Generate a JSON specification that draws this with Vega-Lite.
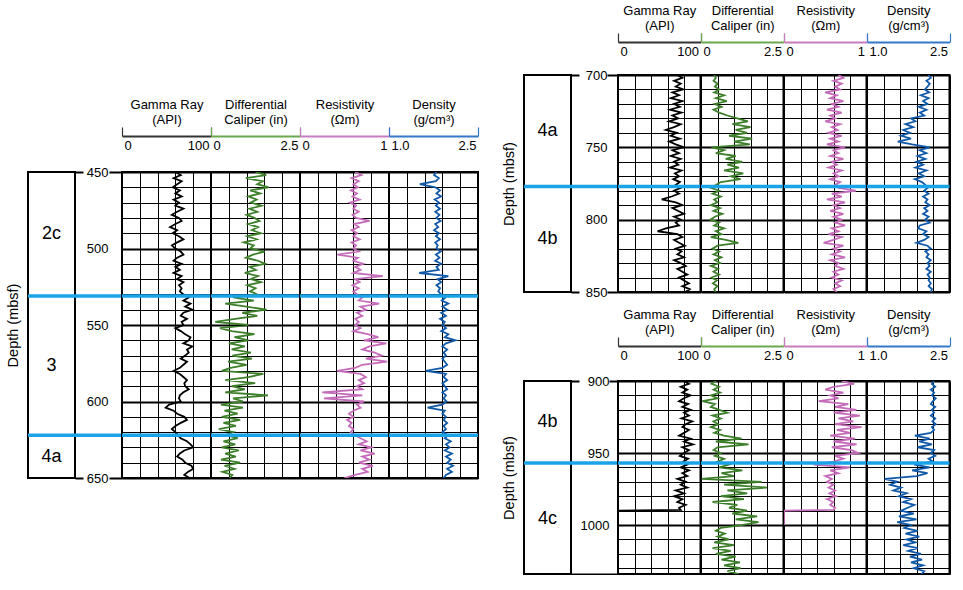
{
"$schema":"https://vega.github.io/schema/vega-lite/v6.json",
"padding":{"left":5,"top":3,"right":0,"bottom":0},
"config":{"font":"Liberation Sans","view":{"stroke":null},"axis":{"labelFont":"Liberation Sans","titleFont":"Liberation Sans"},"text":{"font":"Liberation Sans"}},
"datasets":{
"A":[
{"d":450,"gr":60,"cal":1.25,"res":0.62,"den":1.80},{"d":452,"gr":66,"cal":1.55,"res":0.69,"den":1.76},{"d":454,"gr":58,"cal":0.98,"res":0.58,"den":1.84},{"d":456,"gr":67,"cal":1.45,"res":0.66,"den":1.79},{"d":458,"gr":62,"cal":1.30,"res":0.60,"den":1.52},{"d":460,"gr":57,"cal":1.62,"res":0.65,"den":1.78},{"d":462,"gr":65,"cal":1.10,"res":0.57,"den":1.86},{"d":464,"gr":60,"cal":1.38,"res":0.64,"den":1.80},{"d":466,"gr":67,"cal":1.05,"res":0.59,"den":1.88},{"d":468,"gr":58,"cal":1.28,"res":0.67,"den":1.77},
{"d":470,"gr":64,"cal":1.12,"res":0.56,"den":1.84},{"d":472,"gr":60,"cal":1.42,"res":0.63,"den":1.79},{"d":474,"gr":69,"cal":1.08,"res":0.60,"den":1.86},{"d":476,"gr":62,"cal":1.30,"res":0.66,"den":1.78},{"d":478,"gr":56,"cal":1.00,"res":0.59,"den":1.85},{"d":480,"gr":64,"cal":1.22,"res":0.63,"den":1.80},{"d":482,"gr":67,"cal":1.36,"res":0.78,"den":1.87},{"d":484,"gr":60,"cal":1.05,"res":0.61,"den":1.78},{"d":486,"gr":54,"cal":1.32,"res":0.66,"den":1.83},{"d":488,"gr":62,"cal":1.15,"res":0.58,"den":1.76},
{"d":490,"gr":57,"cal":1.40,"res":0.64,"den":1.84},{"d":492,"gr":64,"cal":1.02,"res":0.60,"den":1.79},{"d":494,"gr":69,"cal":1.28,"res":0.67,"den":1.86},{"d":496,"gr":62,"cal":0.92,"res":0.58,"den":1.78},{"d":498,"gr":56,"cal":1.20,"res":0.63,"den":1.82},{"d":500,"gr":60,"cal":1.10,"res":0.60,"den":1.80},{"d":502,"gr":66,"cal":1.50,"res":0.66,"den":1.87},{"d":504,"gr":69,"cal":1.18,"res":0.42,"den":1.79},{"d":506,"gr":62,"cal":0.98,"res":0.65,"den":1.85},{"d":508,"gr":58,"cal":1.32,"res":0.60,"den":1.78},
{"d":510,"gr":67,"cal":1.52,"res":0.71,"den":1.88},{"d":512,"gr":60,"cal":1.08,"res":0.62,"den":1.80},{"d":514,"gr":65,"cal":1.26,"res":0.68,"den":1.84},{"d":516,"gr":58,"cal":0.95,"res":0.60,"den":1.51},{"d":518,"gr":67,"cal":1.32,"res":0.93,"den":2.00},{"d":520,"gr":62,"cal":1.12,"res":0.62,"den":1.82},{"d":522,"gr":69,"cal":1.40,"res":0.67,"den":1.88},{"d":524,"gr":64,"cal":1.02,"res":0.59,"den":1.80},{"d":526,"gr":67,"cal":1.25,"res":0.66,"den":1.86},{"d":528,"gr":65,"cal":1.10,"res":0.60,"den":1.83},
{"d":530,"gr":69,"cal":1.30,"res":0.64,"den":1.88},{"d":532,"gr":75,"cal":0.62,"res":0.70,"den":1.95},{"d":534,"gr":69,"cal":1.20,"res":0.66,"den":1.89},{"d":536,"gr":77,"cal":0.40,"res":0.89,"den":2.00},{"d":538,"gr":71,"cal":1.00,"res":0.68,"den":1.90},{"d":540,"gr":79,"cal":1.56,"res":0.74,"den":1.98},{"d":542,"gr":69,"cal":0.88,"res":0.64,"den":1.88},{"d":544,"gr":66,"cal":1.30,"res":0.70,"den":1.96},{"d":546,"gr":73,"cal":0.68,"res":0.62,"den":1.86},{"d":548,"gr":67,"cal":0.12,"res":0.66,"den":1.94},
{"d":550,"gr":69,"cal":1.05,"res":0.62,"den":1.90},{"d":552,"gr":60,"cal":0.25,"res":0.68,"den":1.96},{"d":554,"gr":66,"cal":0.58,"res":0.60,"den":1.88},{"d":556,"gr":71,"cal":1.22,"res":0.76,"den":2.00},{"d":558,"gr":77,"cal":0.66,"res":0.88,"den":1.94},{"d":560,"gr":75,"cal":1.05,"res":0.72,"den":2.12},{"d":562,"gr":69,"cal":0.50,"res":0.97,"den":1.96},{"d":564,"gr":79,"cal":0.95,"res":0.78,"den":1.90},{"d":566,"gr":73,"cal":0.58,"res":0.70,"den":1.98},{"d":568,"gr":75,"cal":1.12,"res":0.84,"den":1.92},
{"d":570,"gr":71,"cal":0.60,"res":0.92,"den":1.96},{"d":572,"gr":66,"cal":1.15,"res":0.74,"den":1.90},{"d":574,"gr":73,"cal":0.48,"res":0.98,"den":1.94},{"d":576,"gr":69,"cal":1.00,"res":0.70,"den":1.98},{"d":578,"gr":65,"cal":0.55,"res":0.62,"den":1.90},{"d":580,"gr":58,"cal":0.30,"res":0.42,"den":1.62},{"d":582,"gr":65,"cal":1.47,"res":0.68,"den":1.96},{"d":584,"gr":69,"cal":1.05,"res":0.74,"den":1.92},{"d":586,"gr":73,"cal":0.40,"res":0.66,"den":1.98},{"d":588,"gr":70,"cal":1.24,"res":0.72,"den":1.90},
{"d":590,"gr":71,"cal":0.58,"res":0.64,"den":1.94},{"d":592,"gr":75,"cal":0.95,"res":0.70,"den":1.98},{"d":594,"gr":69,"cal":0.40,"res":0.25,"den":1.90},{"d":596,"gr":65,"cal":1.60,"res":0.70,"den":1.96},{"d":598,"gr":64,"cal":0.62,"res":0.27,"den":1.92},{"d":600,"gr":66,"cal":0.90,"res":0.72,"den":1.97},{"d":602,"gr":53,"cal":0.28,"res":0.64,"den":1.90},{"d":604,"gr":49,"cal":0.90,"res":0.68,"den":1.65},{"d":606,"gr":58,"cal":0.38,"res":0.60,"den":1.94},{"d":608,"gr":62,"cal":0.75,"res":0.55,"den":1.90},
{"d":610,"gr":70,"cal":0.30,"res":0.60,"den":1.96},{"d":612,"gr":73,"cal":0.82,"res":0.53,"den":1.92},{"d":614,"gr":66,"cal":0.35,"res":0.58,"den":1.98},{"d":616,"gr":60,"cal":0.70,"res":0.55,"den":1.92},{"d":618,"gr":56,"cal":0.22,"res":0.60,"den":1.96},{"d":620,"gr":60,"cal":0.62,"res":0.57,"den":1.90},{"d":622,"gr":63,"cal":0.40,"res":0.62,"den":2.00},{"d":624,"gr":66,"cal":0.75,"res":0.68,"den":1.94},{"d":626,"gr":73,"cal":0.35,"res":0.75,"den":2.04},{"d":628,"gr":77,"cal":0.68,"res":0.66,"den":1.96},
{"d":630,"gr":80,"cal":0.30,"res":0.80,"den":2.02},{"d":632,"gr":70,"cal":0.78,"res":0.68,"den":1.94},{"d":634,"gr":65,"cal":0.40,"res":0.84,"den":2.06},{"d":636,"gr":62,"cal":0.70,"res":0.70,"den":1.96},{"d":638,"gr":68,"cal":0.28,"res":0.78,"den":2.04},{"d":640,"gr":71,"cal":0.82,"res":0.66,"den":1.98},{"d":642,"gr":78,"cal":0.38,"res":0.82,"den":2.08},{"d":644,"gr":80,"cal":0.66,"res":0.70,"den":1.98},{"d":646,"gr":74,"cal":0.32,"res":0.76,"den":2.06},{"d":648,"gr":70,"cal":0.60,"res":0.62,"den":1.96},
{"d":650,"gr":76,"cal":0.52,"res":0.50,"den":1.92}
],
"B":[
{"d":700,"gr":72,"cal":0.40,"res":0.66,"den":2.12},{"d":702,"gr":78,"cal":0.45,"res":0.72,"den":2.16},{"d":704,"gr":68,"cal":0.38,"res":0.60,"den":2.08},{"d":706,"gr":76,"cal":0.50,"res":0.70,"den":2.14},{"d":708,"gr":70,"cal":0.42,"res":0.62,"den":2.10},{"d":710,"gr":79,"cal":0.55,"res":0.68,"den":2.05},{"d":712,"gr":66,"cal":0.40,"res":0.50,"den":2.13},{"d":714,"gr":74,"cal":0.70,"res":0.64,"den":1.98},{"d":716,"gr":64,"cal":0.45,"res":0.56,"den":2.12},{"d":718,"gr":78,"cal":0.78,"res":0.72,"den":2.02},
{"d":720,"gr":68,"cal":0.42,"res":0.58,"den":2.10},{"d":722,"gr":75,"cal":0.62,"res":0.66,"den":1.94},{"d":724,"gr":63,"cal":0.38,"res":0.52,"den":2.08},{"d":726,"gr":77,"cal":0.55,"res":0.70,"den":1.96},{"d":728,"gr":66,"cal":0.80,"res":0.56,"den":2.04},{"d":730,"gr":73,"cal":1.10,"res":0.62,"den":1.80},{"d":732,"gr":62,"cal":1.42,"res":0.50,"den":1.88},{"d":734,"gr":76,"cal":0.95,"res":0.68,"den":1.70},{"d":736,"gr":68,"cal":1.50,"res":0.58,"den":1.84},{"d":738,"gr":58,"cal":1.05,"res":0.65,"den":1.66},
{"d":740,"gr":71,"cal":1.40,"res":0.54,"den":1.78},{"d":742,"gr":64,"cal":0.85,"res":0.70,"den":1.62},{"d":744,"gr":75,"cal":1.55,"res":0.56,"den":1.80},{"d":746,"gr":62,"cal":1.00,"res":0.66,"den":1.56},{"d":748,"gr":70,"cal":1.48,"res":0.52,"den":1.82},{"d":750,"gr":80,"cal":0.32,"res":0.74,"den":2.14},{"d":752,"gr":66,"cal":0.70,"res":0.60,"den":1.96},{"d":754,"gr":74,"cal":0.45,"res":0.66,"den":2.08},{"d":756,"gr":64,"cal":1.05,"res":0.56,"den":1.92},{"d":758,"gr":76,"cal":0.75,"res":0.72,"den":2.06},
{"d":760,"gr":68,"cal":1.25,"res":0.58,"den":1.90},{"d":762,"gr":73,"cal":0.80,"res":0.64,"den":2.02},{"d":764,"gr":63,"cal":1.15,"res":0.54,"den":1.88},{"d":766,"gr":77,"cal":0.70,"res":0.70,"den":2.08},{"d":768,"gr":69,"cal":1.28,"res":0.60,"den":1.94},{"d":770,"gr":74,"cal":0.90,"res":0.66,"den":2.04},{"d":772,"gr":67,"cal":1.20,"res":0.56,"den":1.87},{"d":774,"gr":75,"cal":0.60,"res":0.68,"den":2.00},{"d":776,"gr":70,"cal":0.45,"res":0.62,"den":2.06},{"d":778,"gr":76,"cal":0.30,"res":0.66,"den":2.10},
{"d":780,"gr":68,"cal":0.55,"res":0.87,"den":2.04},{"d":782,"gr":74,"cal":0.35,"res":0.58,"den":2.12},{"d":784,"gr":65,"cal":0.60,"res":0.70,"den":2.02},{"d":786,"gr":53,"cal":0.40,"res":0.52,"den":2.10},{"d":788,"gr":70,"cal":0.50,"res":0.74,"den":2.06},{"d":790,"gr":78,"cal":0.30,"res":0.60,"den":2.14},{"d":792,"gr":66,"cal":0.58,"res":0.68,"den":2.04},{"d":794,"gr":73,"cal":0.38,"res":0.56,"den":2.10},{"d":796,"gr":80,"cal":0.65,"res":0.72,"den":2.02},{"d":798,"gr":68,"cal":0.42,"res":0.60,"den":2.12},
{"d":800,"gr":76,"cal":0.28,"res":0.70,"den":2.06},{"d":802,"gr":70,"cal":0.55,"res":0.62,"den":2.14},{"d":804,"gr":74,"cal":0.40,"res":0.74,"den":1.96},{"d":806,"gr":58,"cal":0.70,"res":0.58,"den":1.93},{"d":808,"gr":48,"cal":0.45,"res":0.66,"den":2.08},{"d":810,"gr":72,"cal":0.62,"res":0.54,"den":2.02},{"d":812,"gr":78,"cal":0.30,"res":0.70,"den":2.12},{"d":814,"gr":68,"cal":0.75,"res":0.60,"den":2.04},{"d":816,"gr":74,"cal":1.13,"res":0.48,"den":1.90},{"d":818,"gr":81,"cal":0.50,"res":0.72,"den":2.10},
{"d":820,"gr":70,"cal":0.35,"res":0.60,"den":2.16},{"d":822,"gr":77,"cal":0.55,"res":0.68,"den":2.06},{"d":824,"gr":72,"cal":0.38,"res":0.58,"den":2.12},{"d":826,"gr":80,"cal":0.62,"res":0.74,"den":2.08},{"d":828,"gr":68,"cal":0.42,"res":0.56,"den":2.16},{"d":830,"gr":76,"cal":0.58,"res":0.66,"den":2.10},{"d":832,"gr":82,"cal":0.30,"res":0.62,"den":2.14},{"d":834,"gr":72,"cal":0.52,"res":0.72,"den":2.08},{"d":836,"gr":78,"cal":0.38,"res":0.60,"den":2.16},{"d":838,"gr":84,"cal":0.55,"res":0.66,"den":2.10},
{"d":840,"gr":74,"cal":0.32,"res":0.58,"den":2.14},{"d":842,"gr":80,"cal":0.48,"res":0.70,"den":2.12},{"d":844,"gr":86,"cal":0.36,"res":0.62,"den":2.16},{"d":846,"gr":78,"cal":0.50,"res":0.68,"den":2.12},{"d":848,"gr":87,"cal":0.40,"res":0.60,"den":2.18},{"d":850,"gr":82,"cal":0.45,"res":0.64,"den":2.16}
],
"C":[
{"d":900,"gr":80,"cal":0.45,"res":0.70,"den":2.22},{"d":902,"gr":86,"cal":0.32,"res":0.85,"den":2.18},{"d":904,"gr":76,"cal":0.55,"res":0.60,"den":2.24},{"d":906,"gr":84,"cal":0.38,"res":0.50,"den":2.16},{"d":908,"gr":78,"cal":0.58,"res":0.72,"den":2.22},{"d":910,"gr":88,"cal":0.30,"res":0.56,"den":2.18},{"d":912,"gr":80,"cal":0.50,"res":0.66,"den":2.25},{"d":914,"gr":74,"cal":0.04,"res":0.42,"den":2.20},{"d":916,"gr":85,"cal":0.42,"res":0.78,"den":2.16},{"d":918,"gr":78,"cal":0.30,"res":0.62,"den":2.24},
{"d":920,"gr":88,"cal":0.55,"res":0.88,"den":2.18},{"d":922,"gr":80,"cal":0.80,"res":0.60,"den":2.22},{"d":924,"gr":86,"cal":0.35,"res":0.92,"den":2.16},{"d":926,"gr":77,"cal":0.60,"res":0.66,"den":2.24},{"d":928,"gr":90,"cal":0.38,"res":0.84,"den":2.19},{"d":930,"gr":82,"cal":0.52,"res":0.62,"den":2.25},{"d":932,"gr":78,"cal":0.30,"res":0.94,"den":2.18},{"d":934,"gr":86,"cal":0.58,"res":0.64,"den":2.22},{"d":936,"gr":80,"cal":0.40,"res":0.80,"den":2.16},{"d":938,"gr":74,"cal":0.70,"res":0.56,"den":1.87},
{"d":940,"gr":88,"cal":1.23,"res":0.86,"den":2.14},{"d":942,"gr":80,"cal":0.45,"res":0.60,"den":1.95},{"d":944,"gr":91,"cal":1.44,"res":0.88,"den":2.18},{"d":946,"gr":78,"cal":0.50,"res":0.58,"den":1.92},{"d":948,"gr":86,"cal":0.38,"res":0.82,"den":2.22},{"d":950,"gr":80,"cal":0.60,"res":0.90,"den":2.16},{"d":952,"gr":75,"cal":0.42,"res":0.62,"den":2.24},{"d":954,"gr":85,"cal":0.70,"res":0.72,"den":2.12},{"d":956,"gr":79,"cal":0.50,"res":0.60,"den":2.20},{"d":958,"gr":84,"cal":0.85,"res":0.36,"den":1.86},
{"d":960,"gr":76,"cal":0.55,"res":0.80,"den":2.14},{"d":962,"gr":86,"cal":1.25,"res":0.56,"den":1.82},{"d":964,"gr":78,"cal":0.62,"res":0.66,"den":2.10},{"d":966,"gr":84,"cal":1.00,"res":0.50,"den":1.90},{"d":968,"gr":72,"cal":0.02,"res":0.58,"den":1.32},{"d":970,"gr":82,"cal":1.84,"res":0.52,"den":1.55},{"d":972,"gr":76,"cal":0.70,"res":0.60,"den":1.42},{"d":974,"gr":84,"cal":2.00,"res":0.54,"den":1.62},{"d":976,"gr":70,"cal":0.80,"res":0.62,"den":1.48},{"d":978,"gr":80,"cal":1.40,"res":0.55,"den":1.72},
{"d":980,"gr":68,"cal":0.60,"res":0.63,"den":1.58},{"d":982,"gr":78,"cal":1.30,"res":0.52,"den":1.80},{"d":984,"gr":72,"cal":0.35,"res":0.60,"den":1.66},{"d":986,"gr":82,"cal":1.10,"res":0.56,"den":1.86},{"d":988,"gr":74,"cal":0.85,"res":0.62,"den":1.74},{"d":989.5,"gr":76,"res":0.60},{"d":990,"gr":0,"cal":1.40,"res":0,"den":1.62},{"d":992,"cal":0.95,"den":1.85},{"d":994,"cal":1.70,"den":1.58},{"d":996,"cal":1.05,"den":1.90},
{"d":998,"cal":1.74,"den":1.55},{"d":1000,"cal":1.23,"res":0,"den":1.80},{"d":1002,"cal":0.60,"den":1.68},{"d":1004,"cal":0.45,"den":1.92},{"d":1006,"cal":0.72,"den":1.70},{"d":1008,"cal":0.50,"den":1.95},{"d":1010,"cal":0.85,"den":1.72},{"d":1012,"cal":0.40,"den":1.88},{"d":1014,"cal":1.00,"den":1.66},{"d":1016,"cal":0.35,"den":1.92},
{"d":1018,"cal":0.90,"den":1.75},{"d":1020,"cal":0.45,"den":1.98},{"d":1022,"cal":1.05,"den":1.78},{"d":1024,"cal":0.62,"den":2.00},{"d":1026,"cal":1.18,"den":1.80},{"d":1028,"cal":0.70,"den":2.02},{"d":1030,"cal":1.20,"den":1.85},{"d":1032,"cal":0.80,"den":2.04},{"d":1034,"cal":1.15,"den":1.99}
],
"uA":[{"unit":"2c","top":450,"bottom":531},{"unit":"3","top":531,"bottom":622},{"unit":"4a","top":622,"bottom":650}],
"uB":[{"unit":"4a","top":700,"bottom":777},{"unit":"4b","top":777,"bottom":850}],
"uC":[{"unit":"4b","top":900,"bottom":957},{"unit":"4c","top":957,"bottom":1034}],
"bA":[{"d":531},{"d":622}],
"bB":[{"d":777}],
"bC":[{"d":957}]
},
"hconcat":[
{"vconcat":[
 {"width":10,"height":22,"data":{"values":[]},"mark":"rule","encoding":{}},
 {"hconcat":[
  {"width":94,"height":306,"layer":[
   {"data":{"name":"uA"},"mark":{"type":"rect","fill":"#fff","stroke":"#000","strokeWidth":2},
    "encoding":{"x":{"datum":0,"type":"quantitative","scale":{"domain":[0,1],"nice":false,"zero":false},"axis":null},"x2":{"datum":0.5},
     "y":{"field":"top","type":"quantitative","scale":{"domain":[450,650],"reverse":true,"nice":false,"zero":false},"axis":{"orient":"left","labels":false,"ticks":false,"domain":false,"grid":false,"title":"Depth (mbsf)","titleFontSize":14.5,"titleFontWeight":"normal","titleColor":"#000","titlePadding":8}},"y2":{"field":"bottom"}}},
   {"data":{"name":"uA"},"transform":[{"calculate":"(datum.top+datum.bottom)/2","as":"mid"}],"mark":{"type":"text","fontSize":18,"color":"#000"},
    "encoding":{"x":{"datum":0.25,"type":"quantitative","axis":null},"y":{"field":"mid","type":"quantitative","scale":{"domain":[450,650],"reverse":true,"nice":false,"zero":false},"axis":{"orient":"right","offset":-47,"values":[450,500,550,600,650],"labelAlign":"right","labelPadding":25,"labelFontSize":13,"labelColor":"#000","ticks":true,"tickSize":8,"tickWidth":2,"tickColor":"#000","tickOpacity":{"condition":{"test":"datum.value==450||datum.value==650","value":1},"value":0},"domain":false,"grid":false,"title":null}},"text":{"field":"unit"}}},
   {"data":{"name":"bA"},"mark":{"type":"rule","color":"#1aa3e8","strokeWidth":3.5},
    "encoding":{"y":{"field":"d","type":"quantitative","scale":{"domain":[450,650],"reverse":true,"nice":false,"zero":false},"axis":{"orient":"right","offset":-13,"values":[450,650],"labels":false,"ticks":true,"tickSize":13,"tickWidth":2,"tickColor":"#000","domain":false,"grid":false,"title":null}}}}
  ],"resolve":{"axis":{"y":"independent"}}},
  {"width":89,"height":306,"view":{"stroke":"#000","strokeWidth":2},"layer":[
   {"data":{"name":"A"},"mark":{"type":"line","color":"#000","strokeWidth":1.8,"invalid":"filter","clip":true},
    "encoding":{"x":{"field":"gr","type":"quantitative","scale":{"domain":[0,100],"nice":false,"zero":false},"axis":{"orient":"top","offset":36,"values":[0,20,40,60,80,100],"tickCount":50,"grid":true,"gridColor":"#000","gridWidth":1,"gridOpacity":1,"domainColor":"#333","domainWidth":2,"ticks":true,"tickColor":"#333","tickSize":9,"tickWidth":1.2,"tickOpacity":{"condition":{"test":"datum.value==0||datum.value==100","value":1},"value":0},"labelExpr":"datum.value==0?'0':datum.value==100?'100':''","labelFlush":true,"labelFlushOffset":-2,"labelBaseline":"top","labelPadding":-12,"labelFontSize":13,"labelColor":"#000","title":["Gamma Ray","(API)"],"titleFontSize":13,"titleFontWeight":"normal","titleColor":"#000","titlePadding":0,"titleLineHeight":15}},
     "y":{"field":"d","type":"quantitative","scale":{"domain":[450,650],"reverse":true,"nice":false,"zero":false},"axis":{"values":[450,460,470,480,490,500,510,520,530,540,550,560,570,580,590,600,610,620,630,640,650],"tickCount":50,"labels":false,"ticks":false,"domain":false,"title":null,"grid":true,"gridColor":"#000","gridOpacity":1,"gridWidth":{"condition":{"test":"datum.value%50==0","value":2},"value":1}}},
     "order":{"field":"d","type":"quantitative"}}},
   {"data":{"name":"bA"},"mark":{"type":"rule","color":"#1aa3e8","strokeWidth":3.5},"encoding":{"y":{"field":"d","type":"quantitative","scale":{"domain":[450,650],"reverse":true,"nice":false,"zero":false}}}}
  ]},
  {"width":89,"height":306,"view":{"stroke":"#000","strokeWidth":2},"layer":[
   {"data":{"name":"A"},"mark":{"type":"line","color":"#3d7f2a","strokeWidth":1.8,"invalid":"filter","clip":true},
    "encoding":{"x":{"field":"cal","type":"quantitative","scale":{"domain":[0,2.5],"nice":false,"zero":false},"axis":{"orient":"top","offset":36,"values":[0,0.5,1,1.5,2,2.5],"tickCount":50,"grid":true,"gridColor":"#000","gridWidth":1,"gridOpacity":1,"domainColor":"#6aa84f","domainWidth":2,"ticks":true,"tickColor":"#6aa84f","tickSize":9,"tickWidth":1.2,"tickOpacity":{"condition":{"test":"datum.value==0||datum.value==2.5","value":1},"value":0},"labelExpr":"datum.value==0?'0':datum.value==2.5?'2.5':''","labelFlush":true,"labelFlushOffset":-2,"labelBaseline":"top","labelPadding":-12,"labelFontSize":13,"labelColor":"#000","title":["Differential","Caliper (in)"],"titleFontSize":13,"titleFontWeight":"normal","titleColor":"#000","titlePadding":0,"titleLineHeight":15}},
     "y":{"field":"d","type":"quantitative","scale":{"domain":[450,650],"reverse":true,"nice":false,"zero":false},"axis":{"values":[450,460,470,480,490,500,510,520,530,540,550,560,570,580,590,600,610,620,630,640,650],"tickCount":50,"labels":false,"ticks":false,"domain":false,"title":null,"grid":true,"gridColor":"#000","gridOpacity":1,"gridWidth":{"condition":{"test":"datum.value%50==0","value":2},"value":1}}},
     "order":{"field":"d","type":"quantitative"}}},
   {"data":{"name":"bA"},"mark":{"type":"rule","color":"#1aa3e8","strokeWidth":3.5},"encoding":{"y":{"field":"d","type":"quantitative","scale":{"domain":[450,650],"reverse":true,"nice":false,"zero":false}}}}
  ]},
  {"width":89,"height":306,"view":{"stroke":"#000","strokeWidth":2},"layer":[
   {"data":{"name":"A"},"mark":{"type":"line","color":"#c46bb9","strokeWidth":1.8,"invalid":"filter","clip":true},
    "encoding":{"x":{"field":"res","type":"quantitative","scale":{"domain":[0,1],"nice":false,"zero":false},"axis":{"orient":"top","offset":36,"values":[0,0.2,0.4,0.6,0.8,1],"tickCount":50,"grid":true,"gridColor":"#000","gridWidth":1,"gridOpacity":1,"domainColor":"#c77dc0","domainWidth":2,"ticks":true,"tickColor":"#c77dc0","tickSize":9,"tickWidth":1.2,"tickOpacity":{"condition":{"test":"datum.value==0||datum.value==1","value":1},"value":0},"labelExpr":"datum.value==0?'0':datum.value==1?'1':''","labelFlush":true,"labelFlushOffset":-2,"labelBaseline":"top","labelPadding":-12,"labelFontSize":13,"labelColor":"#000","title":["Resistivity","(Ωm)"],"titleFontSize":13,"titleFontWeight":"normal","titleColor":"#000","titlePadding":0,"titleLineHeight":15}},
     "y":{"field":"d","type":"quantitative","scale":{"domain":[450,650],"reverse":true,"nice":false,"zero":false},"axis":{"values":[450,460,470,480,490,500,510,520,530,540,550,560,570,580,590,600,610,620,630,640,650],"tickCount":50,"labels":false,"ticks":false,"domain":false,"title":null,"grid":true,"gridColor":"#000","gridOpacity":1,"gridWidth":{"condition":{"test":"datum.value%50==0","value":2},"value":1}}},
     "order":{"field":"d","type":"quantitative"}}},
   {"data":{"name":"bA"},"mark":{"type":"rule","color":"#1aa3e8","strokeWidth":3.5},"encoding":{"y":{"field":"d","type":"quantitative","scale":{"domain":[450,650],"reverse":true,"nice":false,"zero":false}}}}
  ]},
  {"width":89,"height":306,"view":{"stroke":"#000","strokeWidth":2},"layer":[
   {"data":{"name":"A"},"mark":{"type":"line","color":"#1059a8","strokeWidth":1.8,"invalid":"filter","clip":true},
    "encoding":{"x":{"field":"den","type":"quantitative","scale":{"domain":[1,2.5],"nice":false,"zero":false},"axis":{"orient":"top","offset":36,"values":[1,1.3,1.6,1.9,2.2,2.5],"tickCount":50,"grid":true,"gridColor":"#000","gridWidth":1,"gridOpacity":1,"domainColor":"#3478c8","domainWidth":2,"ticks":true,"tickColor":"#3478c8","tickSize":9,"tickWidth":1.2,"tickOpacity":{"condition":{"test":"datum.value==1||datum.value==2.5","value":1},"value":0},"labelExpr":"datum.value==1?'1.0':datum.value==2.5?'2.5':''","labelFlush":true,"labelFlushOffset":-2,"labelBaseline":"top","labelPadding":-12,"labelFontSize":13,"labelColor":"#000","title":["Density","(g/cm³)"],"titleFontSize":13,"titleFontWeight":"normal","titleColor":"#000","titlePadding":0,"titleLineHeight":15}},
     "y":{"field":"d","type":"quantitative","scale":{"domain":[450,650],"reverse":true,"nice":false,"zero":false},"axis":{"values":[450,460,470,480,490,500,510,520,530,540,550,560,570,580,590,600,610,620,630,640,650],"tickCount":50,"labels":false,"ticks":false,"domain":false,"title":null,"grid":true,"gridColor":"#000","gridOpacity":1,"gridWidth":{"condition":{"test":"datum.value%50==0","value":2},"value":1}}},
     "order":{"field":"d","type":"quantitative"}}},
   {"data":{"name":"bA"},"mark":{"type":"rule","color":"#1aa3e8","strokeWidth":3.5},"encoding":{"y":{"field":"d","type":"quantitative","scale":{"domain":[450,650],"reverse":true,"nice":false,"zero":false}}}}
  ]}
 ],"spacing":0,"bounds":"flush"}
],"spacing":0},
{"vconcat":[
 {"hconcat":[
  {"width":94,"height":217,"layer":[
   {"data":{"name":"uB"},"mark":{"type":"rect","fill":"#fff","stroke":"#000","strokeWidth":2},
    "encoding":{"x":{"datum":0,"type":"quantitative","scale":{"domain":[0,1],"nice":false,"zero":false},"axis":null},"x2":{"datum":0.5},
     "y":{"field":"top","type":"quantitative","scale":{"domain":[700,850],"reverse":true,"nice":false,"zero":false},"axis":{"orient":"left","labels":false,"ticks":false,"domain":false,"grid":false,"title":"Depth (mbsf)","titleFontSize":14.5,"titleFontWeight":"normal","titleColor":"#000","titlePadding":8}},"y2":{"field":"bottom"}}},
   {"data":{"name":"uB"},"transform":[{"calculate":"(datum.top+datum.bottom)/2","as":"mid"}],"mark":{"type":"text","fontSize":18,"color":"#000"},
    "encoding":{"x":{"datum":0.25,"type":"quantitative","axis":null},"y":{"field":"mid","type":"quantitative","scale":{"domain":[700,850],"reverse":true,"nice":false,"zero":false},"axis":{"orient":"right","offset":-47,"values":[700,750,800,850],"labelAlign":"right","labelPadding":28,"labelFontSize":13,"labelColor":"#000","ticks":true,"tickSize":8,"tickWidth":2,"tickColor":"#000","tickOpacity":{"condition":{"test":"datum.value==700||datum.value==850","value":1},"value":0},"domain":false,"grid":false,"title":null}},"text":{"field":"unit"}}},
   {"data":{"name":"bB"},"mark":{"type":"rule","color":"#1aa3e8","strokeWidth":3.5},
    "encoding":{"y":{"field":"d","type":"quantitative","scale":{"domain":[700,850],"reverse":true,"nice":false,"zero":false},"axis":{"orient":"right","offset":-11,"values":[700,850],"labels":false,"ticks":true,"tickSize":11,"tickWidth":2,"tickColor":"#000","domain":false,"grid":false,"title":null}}}}
  ],"resolve":{"axis":{"y":"independent"}}},
  {"width":82.5,"height":217,"view":{"stroke":"#000","strokeWidth":2},"layer":[
   {"data":{"name":"B"},"mark":{"type":"line","color":"#000","strokeWidth":1.8,"invalid":"filter","clip":true},
    "encoding":{"x":{"field":"gr","type":"quantitative","scale":{"domain":[0,100],"nice":false,"zero":false},"axis":{"orient":"top","offset":33,"values":[0,20,40,60,80,100],"tickCount":50,"grid":true,"gridColor":"#000","gridWidth":1,"gridOpacity":1,"domainColor":"#333","domainWidth":2,"ticks":true,"tickColor":"#333","tickSize":9,"tickWidth":1.2,"tickOpacity":{"condition":{"test":"datum.value==0||datum.value==100","value":1},"value":0},"labelExpr":"datum.value==0?'0':datum.value==100?'100':''","labelFlush":true,"labelFlushOffset":-2,"labelBaseline":"top","labelPadding":-12,"labelFontSize":13,"labelColor":"#000","title":["Gamma Ray","(API)"],"titleFontSize":13,"titleFontWeight":"normal","titleColor":"#000","titlePadding":0,"titleLineHeight":15}},
     "y":{"field":"d","type":"quantitative","scale":{"domain":[700,850],"reverse":true,"nice":false,"zero":false},"axis":{"values":[700,710,720,730,740,750,760,770,780,790,800,810,820,830,840,850],"tickCount":50,"labels":false,"ticks":false,"domain":false,"title":null,"grid":true,"gridColor":"#000","gridOpacity":1,"gridWidth":{"condition":{"test":"datum.value%50==0","value":2},"value":1}}},
     "order":{"field":"d","type":"quantitative"}}},
   {"data":{"name":"bB"},"mark":{"type":"rule","color":"#1aa3e8","strokeWidth":3.5},"encoding":{"y":{"field":"d","type":"quantitative","scale":{"domain":[700,850],"reverse":true,"nice":false,"zero":false}}}}
  ]},
  {"width":82.5,"height":217,"view":{"stroke":"#000","strokeWidth":2},"layer":[
   {"data":{"name":"B"},"mark":{"type":"line","color":"#3d7f2a","strokeWidth":1.8,"invalid":"filter","clip":true},
    "encoding":{"x":{"field":"cal","type":"quantitative","scale":{"domain":[0,2.5],"nice":false,"zero":false},"axis":{"orient":"top","offset":33,"values":[0,0.5,1,1.5,2,2.5],"tickCount":50,"grid":true,"gridColor":"#000","gridWidth":1,"gridOpacity":1,"domainColor":"#6aa84f","domainWidth":2,"ticks":true,"tickColor":"#6aa84f","tickSize":9,"tickWidth":1.2,"tickOpacity":{"condition":{"test":"datum.value==0||datum.value==2.5","value":1},"value":0},"labelExpr":"datum.value==0?'0':datum.value==2.5?'2.5':''","labelFlush":true,"labelFlushOffset":-2,"labelBaseline":"top","labelPadding":-12,"labelFontSize":13,"labelColor":"#000","title":["Differential","Caliper (in)"],"titleFontSize":13,"titleFontWeight":"normal","titleColor":"#000","titlePadding":0,"titleLineHeight":15}},
     "y":{"field":"d","type":"quantitative","scale":{"domain":[700,850],"reverse":true,"nice":false,"zero":false},"axis":{"values":[700,710,720,730,740,750,760,770,780,790,800,810,820,830,840,850],"tickCount":50,"labels":false,"ticks":false,"domain":false,"title":null,"grid":true,"gridColor":"#000","gridOpacity":1,"gridWidth":{"condition":{"test":"datum.value%50==0","value":2},"value":1}}},
     "order":{"field":"d","type":"quantitative"}}},
   {"data":{"name":"bB"},"mark":{"type":"rule","color":"#1aa3e8","strokeWidth":3.5},"encoding":{"y":{"field":"d","type":"quantitative","scale":{"domain":[700,850],"reverse":true,"nice":false,"zero":false}}}}
  ]},
  {"width":82.5,"height":217,"view":{"stroke":"#000","strokeWidth":2},"layer":[
   {"data":{"name":"B"},"mark":{"type":"line","color":"#c46bb9","strokeWidth":1.8,"invalid":"filter","clip":true},
    "encoding":{"x":{"field":"res","type":"quantitative","scale":{"domain":[0,1],"nice":false,"zero":false},"axis":{"orient":"top","offset":33,"values":[0,0.2,0.4,0.6,0.8,1],"tickCount":50,"grid":true,"gridColor":"#000","gridWidth":1,"gridOpacity":1,"domainColor":"#c77dc0","domainWidth":2,"ticks":true,"tickColor":"#c77dc0","tickSize":9,"tickWidth":1.2,"tickOpacity":{"condition":{"test":"datum.value==0||datum.value==1","value":1},"value":0},"labelExpr":"datum.value==0?'0':datum.value==1?'1':''","labelFlush":true,"labelFlushOffset":-2,"labelBaseline":"top","labelPadding":-12,"labelFontSize":13,"labelColor":"#000","title":["Resistivity","(Ωm)"],"titleFontSize":13,"titleFontWeight":"normal","titleColor":"#000","titlePadding":0,"titleLineHeight":15}},
     "y":{"field":"d","type":"quantitative","scale":{"domain":[700,850],"reverse":true,"nice":false,"zero":false},"axis":{"values":[700,710,720,730,740,750,760,770,780,790,800,810,820,830,840,850],"tickCount":50,"labels":false,"ticks":false,"domain":false,"title":null,"grid":true,"gridColor":"#000","gridOpacity":1,"gridWidth":{"condition":{"test":"datum.value%50==0","value":2},"value":1}}},
     "order":{"field":"d","type":"quantitative"}}},
   {"data":{"name":"bB"},"mark":{"type":"rule","color":"#1aa3e8","strokeWidth":3.5},"encoding":{"y":{"field":"d","type":"quantitative","scale":{"domain":[700,850],"reverse":true,"nice":false,"zero":false}}}}
  ]},
  {"width":82.5,"height":217,"view":{"stroke":"#000","strokeWidth":2},"layer":[
   {"data":{"name":"B"},"mark":{"type":"line","color":"#1059a8","strokeWidth":1.8,"invalid":"filter","clip":true},
    "encoding":{"x":{"field":"den","type":"quantitative","scale":{"domain":[1,2.5],"nice":false,"zero":false},"axis":{"orient":"top","offset":33,"values":[1,1.3,1.6,1.9,2.2,2.5],"tickCount":50,"grid":true,"gridColor":"#000","gridWidth":1,"gridOpacity":1,"domainColor":"#3478c8","domainWidth":2,"ticks":true,"tickColor":"#3478c8","tickSize":9,"tickWidth":1.2,"tickOpacity":{"condition":{"test":"datum.value==1||datum.value==2.5","value":1},"value":0},"labelExpr":"datum.value==1?'1.0':datum.value==2.5?'2.5':''","labelFlush":true,"labelFlushOffset":-2,"labelBaseline":"top","labelPadding":-12,"labelFontSize":13,"labelColor":"#000","title":["Density","(g/cm³)"],"titleFontSize":13,"titleFontWeight":"normal","titleColor":"#000","titlePadding":0,"titleLineHeight":15}},
     "y":{"field":"d","type":"quantitative","scale":{"domain":[700,850],"reverse":true,"nice":false,"zero":false},"axis":{"values":[700,710,720,730,740,750,760,770,780,790,800,810,820,830,840,850],"tickCount":50,"labels":false,"ticks":false,"domain":false,"title":null,"grid":true,"gridColor":"#000","gridOpacity":1,"gridWidth":{"condition":{"test":"datum.value%50==0","value":2},"value":1}}},
     "order":{"field":"d","type":"quantitative"}}},
   {"data":{"name":"bB"},"mark":{"type":"rule","color":"#1aa3e8","strokeWidth":3.5},"encoding":{"y":{"field":"d","type":"quantitative","scale":{"domain":[700,850],"reverse":true,"nice":false,"zero":false}}}}
  ]}
 ],"spacing":0,"bounds":"flush"},
 {"hconcat":[
  {"width":94,"height":193,"layer":[
   {"data":{"name":"uC"},"mark":{"type":"rect","fill":"#fff","stroke":"#000","strokeWidth":2},
    "encoding":{"x":{"datum":0,"type":"quantitative","scale":{"domain":[0,1],"nice":false,"zero":false},"axis":null},"x2":{"datum":0.5},
     "y":{"field":"top","type":"quantitative","scale":{"domain":[900,1034],"reverse":true,"nice":false,"zero":false},"axis":{"orient":"left","labels":false,"ticks":false,"domain":false,"grid":false,"title":"Depth (mbsf)","titleFontSize":14.5,"titleFontWeight":"normal","titleColor":"#000","titlePadding":8}},"y2":{"field":"bottom"}}},
   {"data":{"name":"uC"},"transform":[{"calculate":"(datum.top+datum.bottom)/2","as":"mid"}],"mark":{"type":"text","fontSize":18,"color":"#000"},
    "encoding":{"x":{"datum":0.25,"type":"quantitative","axis":null},"y":{"field":"mid","type":"quantitative","scale":{"domain":[900,1034],"reverse":true,"nice":false,"zero":false},"axis":{"orient":"right","offset":-47,"values":[900,950,1000,1034],"format":"d","labelExpr":"datum.value==1034?'':datum.label","labelAlign":"right","labelPadding":30,"labelFontSize":13,"labelColor":"#000","ticks":true,"tickSize":{"condition":{"test":"datum.value==1034","value":47},"value":8},"tickWidth":2,"tickColor":"#000","tickOpacity":{"condition":{"test":"datum.value==900||datum.value==1034","value":1},"value":0},"domain":false,"grid":false,"title":null}},"text":{"field":"unit"}}},
   {"data":{"name":"bC"},"mark":{"type":"rule","color":"#1aa3e8","strokeWidth":3.5},
    "encoding":{"y":{"field":"d","type":"quantitative","scale":{"domain":[900,1034],"reverse":true,"nice":false,"zero":false},"axis":{"orient":"right","offset":-9,"values":[900],"labels":false,"ticks":true,"tickSize":9,"tickWidth":2,"tickColor":"#000","domain":false,"grid":false,"title":null}}}}
  ],"resolve":{"axis":{"y":"independent"}}},
  {"width":82.5,"height":193,"view":{"stroke":"#000","strokeWidth":2},"layer":[
   {"data":{"name":"C"},"mark":{"type":"line","color":"#000","strokeWidth":1.8,"invalid":"filter","clip":true},
    "encoding":{"x":{"field":"gr","type":"quantitative","scale":{"domain":[0,100],"nice":false,"zero":false},"axis":{"orient":"top","offset":35,"values":[0,20,40,60,80,100],"tickCount":50,"grid":true,"gridColor":"#000","gridWidth":1,"gridOpacity":1,"domainColor":"#333","domainWidth":2,"ticks":true,"tickColor":"#333","tickSize":9,"tickWidth":1.2,"tickOpacity":{"condition":{"test":"datum.value==0||datum.value==100","value":1},"value":0},"labelExpr":"datum.value==0?'0':datum.value==100?'100':''","labelFlush":true,"labelFlushOffset":-2,"labelBaseline":"top","labelPadding":-12,"labelFontSize":13,"labelColor":"#000","title":["Gamma Ray","(API)"],"titleFontSize":13,"titleFontWeight":"normal","titleColor":"#000","titlePadding":0,"titleLineHeight":15}},
     "y":{"field":"d","type":"quantitative","scale":{"domain":[900,1034],"reverse":true,"nice":false,"zero":false},"axis":{"values":[900,910,920,930,940,950,960,970,980,990,1000,1010,1020,1030],"tickCount":50,"labels":false,"ticks":false,"domain":false,"title":null,"grid":true,"gridColor":"#000","gridOpacity":1,"gridWidth":{"condition":{"test":"datum.value%50==0","value":2},"value":1}}},
     "order":{"field":"d","type":"quantitative"}}},
   {"data":{"name":"bC"},"mark":{"type":"rule","color":"#1aa3e8","strokeWidth":3.5},"encoding":{"y":{"field":"d","type":"quantitative","scale":{"domain":[900,1034],"reverse":true,"nice":false,"zero":false}}}}
  ]},
  {"width":82.5,"height":193,"view":{"stroke":"#000","strokeWidth":2},"layer":[
   {"data":{"name":"C"},"mark":{"type":"line","color":"#3d7f2a","strokeWidth":1.8,"invalid":"filter","clip":true},
    "encoding":{"x":{"field":"cal","type":"quantitative","scale":{"domain":[0,2.5],"nice":false,"zero":false},"axis":{"orient":"top","offset":35,"values":[0,0.5,1,1.5,2,2.5],"tickCount":50,"grid":true,"gridColor":"#000","gridWidth":1,"gridOpacity":1,"domainColor":"#6aa84f","domainWidth":2,"ticks":true,"tickColor":"#6aa84f","tickSize":9,"tickWidth":1.2,"tickOpacity":{"condition":{"test":"datum.value==0||datum.value==2.5","value":1},"value":0},"labelExpr":"datum.value==0?'0':datum.value==2.5?'2.5':''","labelFlush":true,"labelFlushOffset":-2,"labelBaseline":"top","labelPadding":-12,"labelFontSize":13,"labelColor":"#000","title":["Differential","Caliper (in)"],"titleFontSize":13,"titleFontWeight":"normal","titleColor":"#000","titlePadding":0,"titleLineHeight":15}},
     "y":{"field":"d","type":"quantitative","scale":{"domain":[900,1034],"reverse":true,"nice":false,"zero":false},"axis":{"values":[900,910,920,930,940,950,960,970,980,990,1000,1010,1020,1030],"tickCount":50,"labels":false,"ticks":false,"domain":false,"title":null,"grid":true,"gridColor":"#000","gridOpacity":1,"gridWidth":{"condition":{"test":"datum.value%50==0","value":2},"value":1}}},
     "order":{"field":"d","type":"quantitative"}}},
   {"data":{"name":"bC"},"mark":{"type":"rule","color":"#1aa3e8","strokeWidth":3.5},"encoding":{"y":{"field":"d","type":"quantitative","scale":{"domain":[900,1034],"reverse":true,"nice":false,"zero":false}}}}
  ]},
  {"width":82.5,"height":193,"view":{"stroke":"#000","strokeWidth":2},"layer":[
   {"data":{"name":"C"},"mark":{"type":"line","color":"#c46bb9","strokeWidth":1.8,"invalid":"filter","clip":true},
    "encoding":{"x":{"field":"res","type":"quantitative","scale":{"domain":[0,1],"nice":false,"zero":false},"axis":{"orient":"top","offset":35,"values":[0,0.2,0.4,0.6,0.8,1],"tickCount":50,"grid":true,"gridColor":"#000","gridWidth":1,"gridOpacity":1,"domainColor":"#c77dc0","domainWidth":2,"ticks":true,"tickColor":"#c77dc0","tickSize":9,"tickWidth":1.2,"tickOpacity":{"condition":{"test":"datum.value==0||datum.value==1","value":1},"value":0},"labelExpr":"datum.value==0?'0':datum.value==1?'1':''","labelFlush":true,"labelFlushOffset":-2,"labelBaseline":"top","labelPadding":-12,"labelFontSize":13,"labelColor":"#000","title":["Resistivity","(Ωm)"],"titleFontSize":13,"titleFontWeight":"normal","titleColor":"#000","titlePadding":0,"titleLineHeight":15}},
     "y":{"field":"d","type":"quantitative","scale":{"domain":[900,1034],"reverse":true,"nice":false,"zero":false},"axis":{"values":[900,910,920,930,940,950,960,970,980,990,1000,1010,1020,1030],"tickCount":50,"labels":false,"ticks":false,"domain":false,"title":null,"grid":true,"gridColor":"#000","gridOpacity":1,"gridWidth":{"condition":{"test":"datum.value%50==0","value":2},"value":1}}},
     "order":{"field":"d","type":"quantitative"}}},
   {"data":{"name":"bC"},"mark":{"type":"rule","color":"#1aa3e8","strokeWidth":3.5},"encoding":{"y":{"field":"d","type":"quantitative","scale":{"domain":[900,1034],"reverse":true,"nice":false,"zero":false}}}}
  ]},
  {"width":82.5,"height":193,"view":{"stroke":"#000","strokeWidth":2},"layer":[
   {"data":{"name":"C"},"mark":{"type":"line","color":"#1059a8","strokeWidth":1.8,"invalid":"filter","clip":true},
    "encoding":{"x":{"field":"den","type":"quantitative","scale":{"domain":[1,2.5],"nice":false,"zero":false},"axis":{"orient":"top","offset":35,"values":[1,1.3,1.6,1.9,2.2,2.5],"tickCount":50,"grid":true,"gridColor":"#000","gridWidth":1,"gridOpacity":1,"domainColor":"#3478c8","domainWidth":2,"ticks":true,"tickColor":"#3478c8","tickSize":9,"tickWidth":1.2,"tickOpacity":{"condition":{"test":"datum.value==1||datum.value==2.5","value":1},"value":0},"labelExpr":"datum.value==1?'1.0':datum.value==2.5?'2.5':''","labelFlush":true,"labelFlushOffset":-2,"labelBaseline":"top","labelPadding":-12,"labelFontSize":13,"labelColor":"#000","title":["Density","(g/cm³)"],"titleFontSize":13,"titleFontWeight":"normal","titleColor":"#000","titlePadding":0,"titleLineHeight":15}},
     "y":{"field":"d","type":"quantitative","scale":{"domain":[900,1034],"reverse":true,"nice":false,"zero":false},"axis":{"values":[900,910,920,930,940,950,960,970,980,990,1000,1010,1020,1030],"tickCount":50,"labels":false,"ticks":false,"domain":false,"title":null,"grid":true,"gridColor":"#000","gridOpacity":1,"gridWidth":{"condition":{"test":"datum.value%50==0","value":2},"value":1}}},
     "order":{"field":"d","type":"quantitative"}}},
   {"data":{"name":"bC"},"mark":{"type":"rule","color":"#1aa3e8","strokeWidth":3.5},"encoding":{"y":{"field":"d","type":"quantitative","scale":{"domain":[900,1034],"reverse":true,"nice":false,"zero":false}}}}
  ]}
 ],"spacing":0,"bounds":"flush"}
],"spacing":8}
],
"spacing":20
}
